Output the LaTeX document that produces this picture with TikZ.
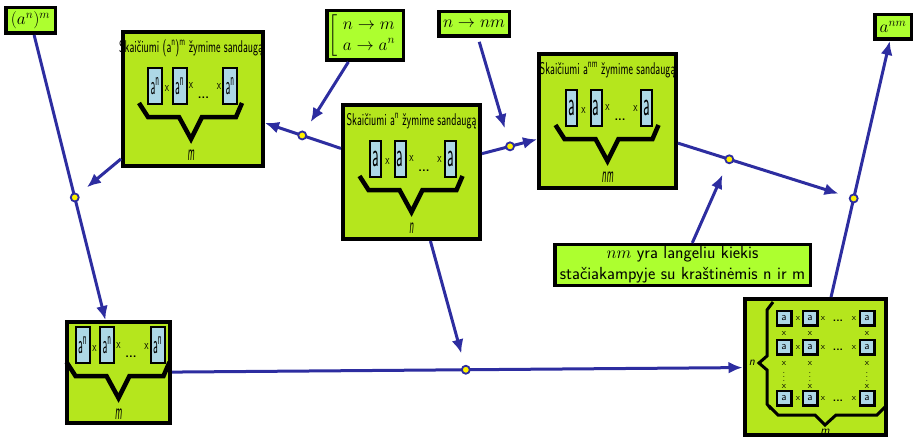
\documentclass[tikz,border=0pt]{standalone}
\usepackage{amsmath, amssymb}
\usepackage{tikz}
\usetikzlibrary{arrows.meta}
\definecolor{labgreen}{RGB}{173,255,47}
\definecolor{boxgreen}{RGB}{181,230,29}
\definecolor{cellblue}{RGB}{173,216,230}
\definecolor{arrblue}{RGB}{45,45,160}
\newcommand{\tms}{\scalebox{1}[1.5]{x}}
\tikzset{
	lab/.style = {draw, line width=3.5pt, fill=labgreen, inner sep=2pt,
		font=\fontsize{17.28}{21}\selectfont},
	pict/.style = {draw, line width=4pt, fill=boxgreen},
	cell/.style = {draw, line width=2pt, fill=cellblue, inner sep=0pt,
		minimum height=36pt,
		path picture={\fill (path picture bounding box.north west) rectangle
			([yshift=-5pt]path picture bounding box.north east);}},
	sqcell/.style = {draw, line width=2.5pt, fill=cellblue, inner sep=0pt,
		minimum size=14.5pt, font=\sffamily\fontsize{11}{11}\selectfont},
	times/.style = {inner sep=0pt, font=\sffamily\fontsize{9}{9}\selectfont},
	boxtitle/.style = {inner sep=0pt, font=\sffamily\fontsize{17}{17}\selectfont},
	mlab/.style = {inner sep=0pt, font=\sffamily\itshape\fontsize{13}{13}\selectfont},
	brace/.style = {line width=4.5pt, line join=miter},
	arr/.style = {->, draw=arrblue, line width=3pt},
	dot/.style = {circle, draw, line width=1.8pt, fill=yellow, inner sep=0pt,
		minimum size=8pt},
	pics/prod/.style n args = {4}{code={
		\node [ boxtitle ] at (0,-51) {\scalebox{0.63}[1]{#1}};
		\foreach \cx in {-36,-11.5,39}
			\node [ cell, minimum width=#2 ] at (\cx,-13) {\raisebox{-2pt}{#3}};
		\node [ times ] at (-24,-10) {\tms};
		\node [ times ] at (0,-13) {\tms};
		\node [ times, font=\sffamily\bfseries\fontsize{12}{12}\selectfont ] at (12.5,-1) {...};
		\node [ times ] at (28,-12) {\tms};
		\draw [ brace ] (-52,4) -- (-43,18) -- (-12,18) -- (0,40)
			-- (11,18) -- (45,18) -- (51,4);
		\node [ mlab ] at (0,56) {\scalebox{0.7}[1.8]{#4}};
	}}
}
\newcommand{\ca}{\fontsize{14}{14}\selectfont\sffamily\scalebox{1}[2.4]{a}}
\newcommand{\can}{\fontsize{12}{12}\selectfont\sffamily\scalebox{0.85}[2.2]{a\textsuperscript{n}}}

\begin{document}
\begin{tikzpicture}[ x=1pt, y=-1pt, >={Latex[length=14pt,width=12pt]} ]
	\useasboundingbox (0,0) rectangle (920,444);

	\node [ lab, minimum width=49.5pt, minimum height=25.5pt ] (1) at (30.5,20.5)
	{ $ (a^n)^m $ };
	\node [ lab, minimum width=76.5pt, minimum height=49.5pt ] (2) at (365,35.5)
	{ $ \left[ \begin{array}{l} n \to m \\ a \to a^n \end{array} \right. $ };
	\node [ lab, minimum width=70.5pt, minimum height=24.5pt ] (3) at (474,24)
	{ $ n \to nm $ };
	\node [ lab, minimum width=36.5pt, minimum height=24.5pt ] (4) at (893,27)
	{ $ a^{nm} $ };
	\node [ pict, minimum width=140pt, minimum height=134pt ] (5) at (193,99) {};
	\node [ pict, minimum width=137pt, minimum height=134pt ] (6) at (411.5,172) {};
	\node [ pict, minimum width=137pt, minimum height=134pt ] (7) at (607.5,121) {};
	\node [ pict, minimum width=103pt, minimum height=101pt ] (8) at (118.5,372.5) {};
	\node [ pict, minimum width=141pt, minimum height=136pt ] (9) at (815,367) {};
	\node [ lab, minimum width=255.5pt, minimum height=40.5pt, align=center,
		font=\sffamily\fontsize{17.5}{21}\selectfont ] (10) at (682.5,265)
	{ $ nm $ yra langeliu kiekis \\ stačiakampyje su kraštinėmis n ir m };

	\pic at (191,99) {prod={Skaičiumi (a\textsuperscript{n})\textsuperscript{m} žymime sandaugą}{14pt}{\can}{m}};
	\pic at (411.5,172) {prod={Skaičiumi a\textsuperscript{n} žymime sandaugą}{11pt}{\ca}{n}};
	\pic at (607.5,121) {prod={Skaičiumi a\textsuperscript{nm} žymime sandaugą}{11pt}{\ca}{nm}};
	\pic at (118.5,358) {prod={}{14pt}{\can}{m}};

	\foreach \r in {318,347,398} {
		\foreach \c in {784,810,867}
			\node [ sqcell ] at (\c,\r) {a};
		\node [ times ] at (798,\r) {x};
		\node [ times ] at (823,\r) {x};
		\node [ times, font=\sffamily\bfseries\fontsize{11}{11}\selectfont ] at (838,\r+3) {...};
		\node [ times ] at (854,\r) {x};
	}
	\foreach \c in {784,810,867} {
		\node [ times ] at (\c,333) {x};
		\node [ times ] at (\c,363) {x};
		\node [ times ] at (\c,374) {$\vdots$};
		\node [ times ] at (\c,386) {x};
	}
	\draw [ brace, line width=3pt ] (773,302) -- (767,310) -- (767,356) -- (759,363)
		-- (767,370) -- (767,404) -- (771,409);
	\draw [ brace, line width=3pt ] (769,406) -- (778,415) -- (815,415) -- (825,425)
		-- (836,415) -- (877,415) -- (885,407);
	\node [ mlab, font=\sffamily\itshape\fontsize{12}{12}\selectfont ] at (752,363) {n};
	\node [ mlab, font=\sffamily\itshape\fontsize{12}{12}\selectfont ] at (825,432) {m};

	\draw [ arr ] (1) to node [ dot, pos=0.57 ] (11) {} (8);
	\draw [ arr ] (6) to node [ dot, pos=0.51 ] (12) {} (5);
	\draw [ arr ] (6) to node [ dot, pos=0.51 ] (13) {} (7);
	\draw [ arr ] (8) to node [ dot, pos=0.515 ] (14) {} (9);
	\draw [ arr ] (9) to node [ dot, pos=0.385 ] (15) {} (4);
	\draw [ arr, shorten >=11pt ] (7) to node [ dot, pos=0.3 ] (16) {} (15);
	\draw [ arr, shorten >=11pt ] (5) to (11);
	\draw [ arr, shorten >=11pt ] (2) to (12);
	\draw [ arr, shorten >=14pt, shorten <=4pt ] (3) to (13);
	\draw [ arr, shorten >=12pt ] (10) to (16);
	\draw [ arr, shorten >=12pt ] (6) to (14);
\end{tikzpicture}
\end{document}
